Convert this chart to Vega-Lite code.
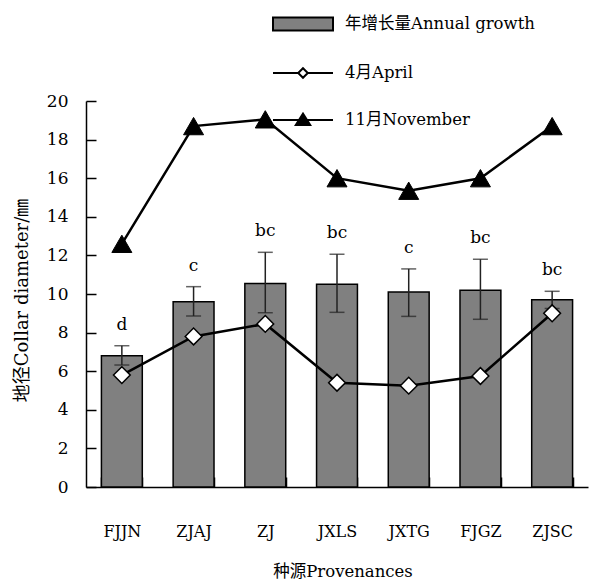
{
  "$schema": "https://vega.github.io/schema/vega-lite/v6.json",
  "autosize": "none",
  "width": 502,
  "height": 386,
  "padding": {"left": 86, "top": 101, "right": 6, "bottom": 97},
  "background": "white",
  "config": {
    "view": {"stroke": null},
    "font": "DejaVu Serif, Noto Sans CJK SC",
    "axis": {"grid": false, "domainColor": "#000", "domainWidth": 1.5, "tickColor": "#000", "tickWidth": 1.5, "labelColor": "#000", "titleColor": "#000", "labelFont": "DejaVu Serif, Noto Sans CJK SC", "titleFont": "DejaVu Serif, Noto Sans CJK SC", "titleFontWeight": "normal", "labelOverlap": false},
    "axisY": {"labelFontSize": 17, "labelPadding": 28, "ticks": true, "tickSize": -10, "tickCount": 10, "labelOverlap": false,
      "titleFontSize": 18, "titleAngle": -90, "titleX": -64, "titleY": 199, "titleBaseline": "middle", "titleAlign": "center", "titleAnchor": null},
    "legend": {"orient": "none", "legendX": 186, "legendY": -108, "direction": "vertical", "symbolSize": 3600, "symbolOpacity": 1, "symbolStrokeColor": "#000", "symbolStrokeWidth": 2, "labelFontSize": 16.5, "labelOffset": 11, "rowPadding": 7, "labelLimit": 400, "labelColor": "#000", "labelFont": "DejaVu Serif, Noto Sans CJK SC"}
  },
  "data": {
    "values": [
      {"name": "FJJN", "growth": 6.8, "err_low": 6.32, "err_high": 7.32, "april": 5.8, "november": 12.6, "letter": "d"},
      {"name": "ZJAJ", "growth": 9.6, "err_low": 8.86, "err_high": 10.38, "april": 7.8, "november": 18.7, "letter": "c"},
      {"name": "ZJ", "growth": 10.55, "err_low": 9.03, "err_high": 12.16, "april": 8.45, "november": 19.05, "letter": "bc"},
      {"name": "JXLS", "growth": 10.5, "err_low": 9.05, "err_high": 12.06, "april": 5.4, "november": 16.0, "letter": "bc"},
      {"name": "JXTG", "growth": 10.1, "err_low": 8.84, "err_high": 11.3, "april": 5.25, "november": 15.35, "letter": "c"},
      {"name": "FJGZ", "growth": 10.2, "err_low": 8.69, "err_high": 11.8, "april": 5.75, "november": 16.0, "letter": "bc"},
      {"name": "ZJSC", "growth": 9.7, "err_low": 9.25, "err_high": 10.14, "april": 9.0, "november": 18.7, "letter": "bc"}
    ]
  },
  "encoding": {
    "x": {
      "field": "name", "type": "nominal", "sort": null,
      "scale": {"paddingInner": 0.43, "paddingOuter": 0.215},
      "axis": {
        "title": "种源Provenances", "labelAngle": 0, "labelFontSize": 16, "labelPadding": 46,
        "ticks": true, "tickSize": -10, "tickBand": "extent",
        "titleFontSize": 16.5, "titleX": 256.5, "titleY": 84, "titleBaseline": "middle", "titleAlign": "center", "titleAnchor": null
      }
    }
  },
  "layer": [
    {
      "mark": {"type": "bar", "fill": "#808080", "stroke": "#000", "strokeWidth": 1.5},
      "encoding": {
        "y": {
          "field": "growth", "type": "quantitative",
          "scale": {"domain": [0, 20], "nice": false},
          "axis": {"title": "地径Collar diameter/㎜", "labelOverlap": false}
        }
      }
    },
    {
      "mark": {"type": "rule", "color": "#222", "strokeWidth": 1.5},
      "encoding": {
        "y": {"field": "err_low", "type": "quantitative", "axis": {"title": "地径Collar diameter/㎜", "labelOverlap": false}},
        "y2": {"field": "err_high"}
      }
    },
    {
      "mark": {"type": "tick", "color": "#222", "size": 15, "thickness": 1.5, "orient": "horizontal"},
      "encoding": {"y": {"field": "err_high", "type": "quantitative", "axis": {"title": "地径Collar diameter/㎜", "labelOverlap": false}}}
    },
    {
      "mark": {"type": "tick", "color": "#222", "size": 15, "thickness": 1.5, "orient": "horizontal"},
      "encoding": {"y": {"field": "err_low", "type": "quantitative", "axis": {"title": "地径Collar diameter/㎜", "labelOverlap": false}}}
    },
    {
      "mark": {"type": "text", "baseline": "bottom", "dy": -12, "fontSize": 17, "color": "#000", "font": "DejaVu Serif"},
      "encoding": {
        "y": {"field": "err_high", "type": "quantitative", "axis": {"title": "地径Collar diameter/㎜", "labelOverlap": false}},
        "text": {"field": "letter"}
      }
    },
    {
      "mark": {"type": "line", "strokeWidth": 2.5, "color": "#000"},
      "encoding": {
        "y": {"field": "april", "type": "quantitative", "axis": {"title": "地径Collar diameter/㎜", "labelOverlap": false}}
      }
    },
    {
      "mark": {"type": "point", "shape": "diamond", "filled": true, "fill": "#fff", "stroke": "#000", "strokeWidth": 1.5, "size": 280, "opacity": 1},
      "encoding": {"y": {"field": "april", "type": "quantitative", "axis": {"title": "地径Collar diameter/㎜", "labelOverlap": false}}}
    },
    {
      "mark": {"type": "line", "strokeWidth": 2.5, "color": "#000"},
      "encoding": {
        "y": {"field": "november", "type": "quantitative", "axis": {"title": "地径Collar diameter/㎜", "labelOverlap": false}}
      }
    },
    {
      "mark": {"type": "point", "shape": "triangle-up", "filled": true, "fill": "#000", "stroke": "#000", "strokeWidth": 1, "size": 400, "opacity": 1},
      "encoding": {"y": {"field": "november", "type": "quantitative", "axis": {"title": "地径Collar diameter/㎜", "labelOverlap": false}}}
    },
    {
      "mark": {"type": "point", "filled": true, "opacity": 0, "strokeWidth": 2},
      "encoding": {
        "y": {"field": "november", "type": "quantitative", "axis": {"title": "地径Collar diameter/㎜", "labelOverlap": false}},
        "color": {
          "datum": "年增长量Annual growth",
          "scale": {"domain": ["年增长量Annual growth", "4月April", "11月November"], "range": ["#808080", "#ffffff", "#000000"]},
          "legend": {"title": null}
        },
        "stroke": {
          "datum": "年增长量Annual growth",
          "scale": {"domain": ["年增长量Annual growth", "4月April", "11月November"], "range": ["#000000", "#000000", "#000000"]},
          "legend": {"title": null}
        },
        "shape": {
          "datum": "年增长量Annual growth",
          "scale": {"domain": ["年增长量Annual growth", "4月April", "11月November"], "range": ["M-1,-0.22H1V0.22H-1Z", "M-1,0H-0.16M0.16,0H1M-0.16,0L0,-0.16L0.16,0L0,0.16Z", "M-1,0H1M-0.24,0.17L0,-0.21L0.24,0.17Z"]},
          "legend": {"title": null}
        }
      }
    }
  ]
}
